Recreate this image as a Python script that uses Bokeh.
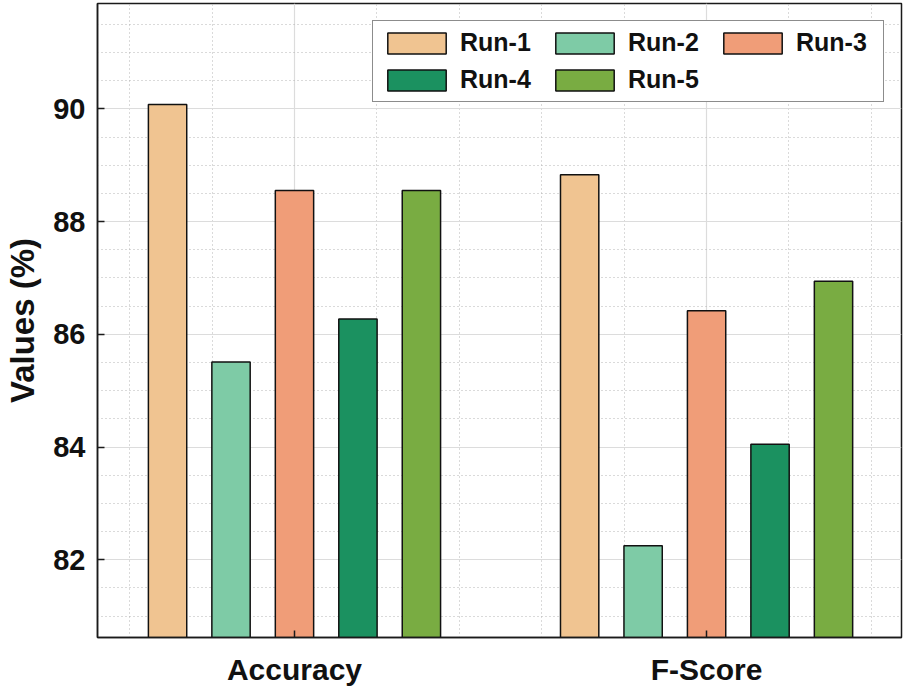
import numpy as np
from bokeh.plotting import figure
from bokeh.models import (Range1d, FixedTicker, SingleIntervalTicker, Legend,
                          LegendItem, ColumnDataSource)
from bokeh.transform import dodge
from bokeh.embed import file_html
from bokeh.resources import INLINE

# ---- data ----
metrics = ["Accuracy", "F-Score"]
runs = ["Run-1", "Run-2", "Run-3", "Run-4", "Run-5"]
run1 = [90.08, 88.83]
run2 = [85.51, 82.25]
run3 = [88.55, 86.42]
run4 = [86.27, 84.05]
run5 = [88.55, 86.94]
colors = ["#F0C491", "#7ECBA6", "#F09D78", "#1B9160", "#79AC42"]
y_label = "Values (%)"

positions = list(range(1, len(metrics) + 1))
source = ColumnDataSource(dict(x=positions, run1=run1, run2=run2, run3=run3,
                               run4=run4, run5=run5))
keys = ["run1", "run2", "run3", "run4", "run5"]

FONT = "Liberation Sans"
p = figure(width=905, height=690, output_backend="svg", toolbar_location=None,
           x_range=Range1d(0.522, 2.473), y_range=Range1d(80.62, 91.87),
           min_border_left=97, min_border_right=4, min_border_top=3,
           min_border_bottom=53)
p.background_fill_color = "white"
p.border_fill_color = "white"
p.outline_line_color = "#1a1a1a"
p.outline_line_width = 1.5

renderers = []
for i, k in enumerate(keys):
    r = p.vbar(x=dodge("x", (i - 2) * 0.154), top=k, bottom=0, width=0.093,
               source=source, fill_color=colors[i], line_color="#111111",
               line_width=1.5)
    renderers.append(r)

# axes
p.xaxis.ticker = FixedTicker(
    ticks=positions,
    minor_ticks=[t for t in np.round(np.arange(0.6, 2.45, 0.2), 1) if t not in positions])
p.xaxis.major_label_overrides = {pos: m for pos, m in zip(positions, metrics)}
p.yaxis.ticker = SingleIntervalTicker(interval=2, num_minor_ticks=4)

for ax in (p.xaxis[0], p.yaxis[0]):
    ax.axis_line_color = "#1a1a1a"
    ax.axis_line_width = 1.5
    ax.major_tick_in = 7
    ax.major_tick_out = 0
    ax.major_tick_line_color = "#1a1a1a"
    ax.major_tick_line_width = 1.5
    ax.minor_tick_in = 0
    ax.minor_tick_out = 0
    ax.major_label_text_font = FONT
    ax.major_label_text_font_style = "bold"
    ax.major_label_text_color = "#111111"

p.xaxis.major_label_text_font_size = "30px"
p.xaxis.major_label_standoff = 15
p.yaxis.major_label_text_font_size = "29px"
p.yaxis.major_label_standoff = 12
p.yaxis.axis_label = y_label
p.yaxis.axis_label_text_font = FONT
p.yaxis.axis_label_text_font_style = "bold"
p.yaxis.axis_label_text_font_size = "33px"
p.yaxis.axis_label_text_color = "#111111"
p.yaxis.axis_label_standoff = 9

# grids
for g in (p.xgrid[0], p.ygrid[0]):
    g.grid_line_color = "#dcdcdc"
    g.grid_line_width = 1.2
    g.minor_grid_line_color = "#b4b4b4"
    g.minor_grid_line_dash = "1 3"
    g.minor_grid_line_width = 1

legend = Legend(items=[LegendItem(label=n, renderers=[r]) for n, r in zip(runs, renderers)],
                orientation="horizontal", ncols=3, location="top_right")
legend.margin = 17
legend.padding = 7
legend.spacing = 8
legend.glyph_width = 73
legend.glyph_height = 26
legend.label_standoff = 7
legend.label_width = 80
legend.label_text_font = FONT
legend.label_text_font_style = "bold"
legend.label_text_font_size = "25px"
legend.label_text_color = "#111111"
legend.border_line_color = "#1a1a1a"
legend.border_line_width = 1.5
legend.background_fill_color = "white"
legend.background_fill_alpha = 1.0
p.add_layout(legend)

open("out.html", "w").write(file_html(p, INLINE))
